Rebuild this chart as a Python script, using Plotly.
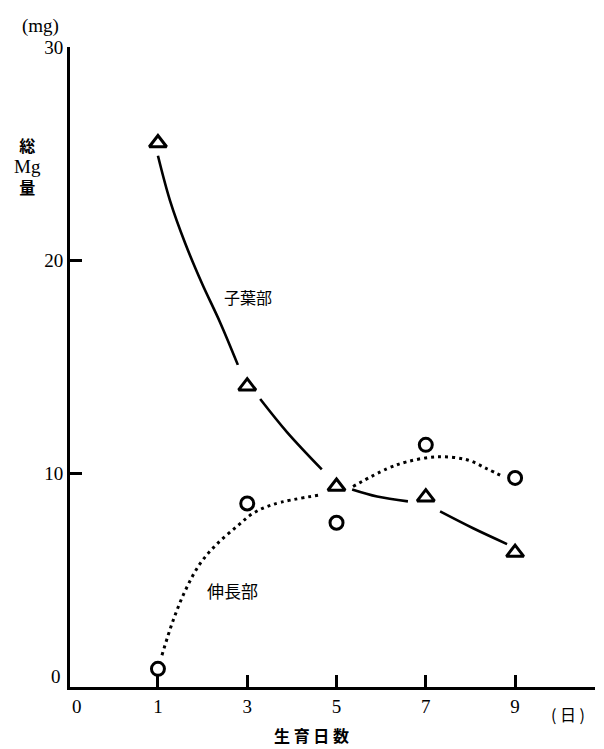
import plotly.graph_objects as go

# ---- data ----
days = [1, 3, 5, 7, 9]
shiyo_vals = [25.5, 14.1, 9.4, 8.9, 6.3]      # 子葉部 (triangles)
shincho_vals = [0.85, 8.6, 7.7, 11.35, 9.8]   # 伸長部 (circles)

# hand-drawn smooth curves (None = gap at a marker)
shiyo_curve_x = [1.0, 1.27, 1.61, 1.99, 2.39, 2.79, None,
                 3.29, 3.89, 4.67, None,
                 5.35, 5.91, 6.60, None,
                 7.32, 8.06, 8.82]
shiyo_curve_y = [24.9, 22.8, 20.8, 18.9, 17.1, 15.1, None,
                 13.5, 11.95, 10.2, None,
                 9.26, 8.93, 8.70, None,
                 8.23, 7.44, 6.70]
shincho_curve_x = [1.09, 1.34, 1.61, 1.94, 2.32, 2.77, 3.13, 3.58, 4.68, None,
                   5.37, 6.13, 6.58, 7.25, 7.92, 8.37, 8.73]
shincho_curve_y = [1.49, 3.12, 4.51, 5.77, 6.70, 7.53, 8.14, 8.56, 9.02, None,
                   9.40, 10.23, 10.56, 10.79, 10.65, 10.23, 9.86]

x_tickvals = [1, 3, 5, 7, 9]
x_ticktext = ["1", "3", "5", "7", "9"]
y_tickvals = [10, 20, 30]
y_ticktext = ["10", "20", "30"]

W, H = 604, 749
L, R, T, B = 70, 9, 47, 62
PW, PH = W - L - R, H - T - B

def px(xp):
    return (xp - L) / PW

def py(yp):
    return (H - B - yp) / PH

SERIF = "Liberation Serif, serif"
CJK = "Noto Sans CJK JP, sans-serif"

fig = go.Figure()

fig.add_trace(go.Scatter(
    x=shiyo_curve_x, y=shiyo_curve_y, mode="lines",
    line=dict(color="black", width=2.6, shape="spline"),
    connectgaps=False, showlegend=False, hoverinfo="skip"))
fig.add_trace(go.Scatter(
    x=shincho_curve_x, y=shincho_curve_y, mode="lines",
    line=dict(color="black", width=3, shape="spline", dash="3px,4px"),
    connectgaps=False, showlegend=False, hoverinfo="skip"))

fig.add_trace(go.Scatter(
    x=days, y=shiyo_vals, mode="markers",
    marker=dict(symbol="triangle-up-open", size=15, color="black",
                line=dict(color="black", width=3)),
    showlegend=False))
fig.add_trace(go.Scatter(
    x=days, y=shincho_vals, mode="markers",
    marker=dict(symbol="circle-open", size=13, color="black",
                line=dict(color="black", width=3)),
    showlegend=False))

fig.update_layout(
    width=W, height=H, autosize=False,
    margin=dict(l=L, r=R, t=T, b=B),
    paper_bgcolor="white", plot_bgcolor="white",
    showlegend=False,
    xaxis=dict(range=[-0.97, 10.79], showgrid=False, zeroline=False,
               showline=True, linecolor="black", linewidth=3,
               ticks="inside", ticklen=12, tickwidth=3, tickcolor="black",
               tickvals=x_tickvals, ticktext=x_ticktext,
               tickfont=dict(family=SERIF, size=19, color="black")),
    yaxis=dict(range=[0, 30], showgrid=False, zeroline=False,
               showline=True, linecolor="black", linewidth=3,
               ticks="inside", ticklen=12, tickwidth=3, tickcolor="black",
               tickvals=y_tickvals, ticktext=y_ticktext,
               tickfont=dict(family=SERIF, size=19, color="black")),
)

def lab(text, xp, yp, family, size):
    return dict(text=text, x=px(xp), y=py(yp), xref="paper", yref="paper",
                xanchor="center", yanchor="middle", showarrow=False,
                font=dict(family=family, size=size, color="black"))

ann = [
    lab("0", 77, 706, SERIF, 19),
    lab("0", 56, 676, SERIF, 19),
    lab("(mg)", 40, 26, SERIF, 19),
    lab("<span style='font-size:16px'><b>総</b></span><br>"
        "<span style='font-family:Liberation Serif, serif;font-size:19px'>Mg</span><br>"
        "<span style='font-size:16px'><b>量</b></span>",
        27, 166, CJK, 16),
    lab("<b>生 育 日 数</b>", 311, 735, CJK, 16),
    lab("( 日 )", 568, 714, CJK, 16),
]
ann.append(dict(text="子葉部", x=3.02, y=18.28, xref="x", yref="y",
                xanchor="center", yanchor="middle", showarrow=False,
                font=dict(family=CJK, size=16, color="black")))
ann.append(dict(text="伸長部", x=2.66, y=4.51, xref="x", yref="y",
                xanchor="center", yanchor="middle", showarrow=False,
                font=dict(family=CJK, size=17, color="black")))

fig.update_layout(annotations=ann)

fig.write_html("out.html")
